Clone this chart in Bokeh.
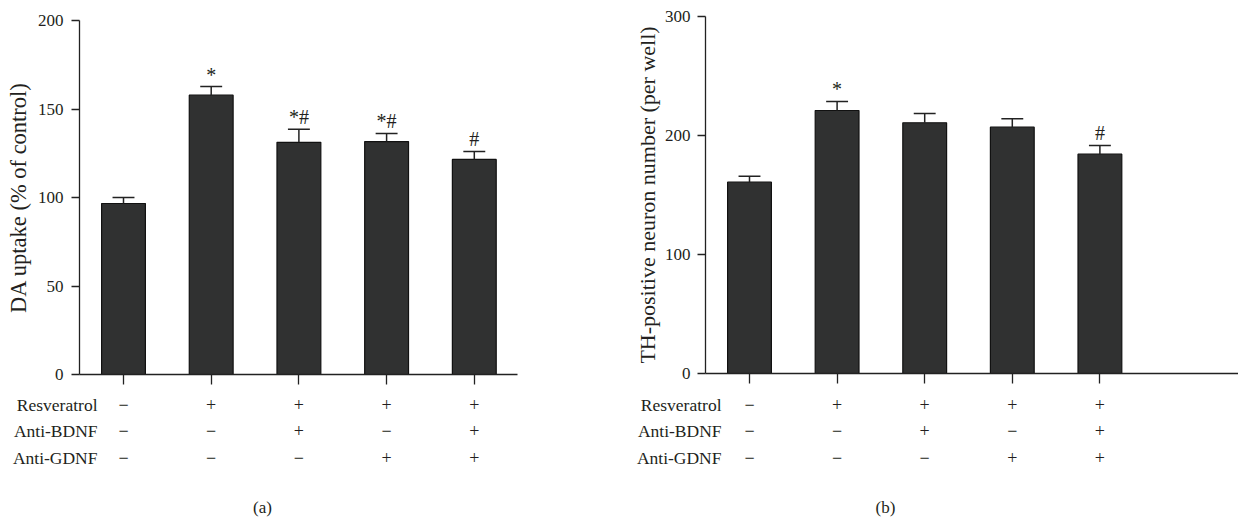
import numpy as np
from bokeh.plotting import figure
from bokeh.models import Range1d, LabelSet, ColumnDataSource, FixedTicker
from bokeh.layouts import row, column
from bokeh.core.properties import value
from bokeh.embed import file_html
from bokeh.resources import INLINE

# ---------------- data ----------------
groups = [0, 1, 2, 3, 4]
row_names = ["Resveratrol", "Anti-BDNF", "Anti-GDNF"]
resveratrol = ["\u2212", "+", "+", "+", "+"]
anti_bdnf = ["\u2212", "\u2212", "+", "\u2212", "+"]
anti_gdnf = ["\u2212", "\u2212", "\u2212", "+", "+"]

da_mean = [96.6, 157.8, 131.2, 131.6, 121.5]
da_err = [3.4, 4.9, 7.4, 4.6, 4.5]
da_marks = ["", "*", "*#", "*#", "#"]
da_ticks = [0, 50, 100, 150, 200]
da_ylabel = "DA uptake (% of control)"

th_mean = [160.8, 221.0, 210.7, 207.0, 184.3]
th_err = [5.0, 7.6, 7.8, 7.0, 7.3]
th_marks = ["", "*", "", "", "#"]
th_ticks = [0, 100, 200, 300]
th_ylabel = "TH-positive neuron number (per well)"

FONT = "Liberation Serif"
TXT = "#231f20"
BAR = "#303131"
BAR_H = 388
TAB_H = 130
ROW_Y = [16, 42, 69]   # table rows, px below the chart


def panel(means, errs, marks, ticks, ylabel, ylabel_size, letter, width,
          left_px, right_px, first_px, step_px, top_px, bottom_px,
          ylab_standoff, tick_standoff, name_end_px, letter_px):
    xr = Range1d((left_px - first_px) / step_px, (right_px - first_px) / step_px)
    p = figure(width=width, height=BAR_H, x_range=xr,
               y_range=Range1d(0, ticks[-1]), output_backend="svg",
               toolbar_location=None, min_border_left=left_px,
               min_border_right=width - right_px,
               min_border_top=top_px, min_border_bottom=BAR_H - bottom_px)
    p.outline_line_color = None
    p.grid.visible = False

    p.yaxis.ticker = FixedTicker(ticks=ticks)
    p.yaxis.minor_tick_line_color = None
    p.yaxis.major_tick_out = 8
    p.yaxis.major_tick_in = 0
    p.yaxis.major_label_standoff = tick_standoff
    p.yaxis.major_label_text_font = FONT
    p.yaxis.major_label_text_font_size = "17px"
    p.yaxis.major_label_text_color = TXT
    p.yaxis.axis_label = ylabel
    p.yaxis.axis_label_standoff = ylab_standoff
    p.yaxis.axis_label_text_font = FONT
    p.yaxis.axis_label_text_font_size = ylabel_size
    p.yaxis.axis_label_text_font_style = "normal"
    p.yaxis.axis_label_text_color = TXT
    p.xaxis.ticker = FixedTicker(ticks=groups)
    p.xaxis.minor_tick_line_color = None
    p.xaxis.major_tick_out = 10
    p.xaxis.major_tick_in = 0
    p.xaxis.major_label_standoff = 0
    p.xaxis.major_label_overrides = {g: "" for g in groups}
    p.xaxis.major_label_text_font_size = "1px"
    for ax in (p.xaxis, p.yaxis):
        ax.axis_line_color = "#222222"
        ax.axis_line_width = 1.3
        ax.major_tick_line_color = "#222222"
        ax.major_tick_line_width = 1.3

    x = np.array(groups, dtype=float)
    m = np.array(means)
    tops = m + np.array(errs)
    p.vbar(x=x, top=m, bottom=0, width=0.5, fill_color=BAR,
           line_color="#111111", line_width=1.2)
    p.segment(x0=x, y0=m, x1=x, y1=tops, line_color="#222222", line_width=1.5)
    p.segment(x0=x - 0.125, y0=tops, x1=x + 0.125, y1=tops,
              line_color="#222222", line_width=1.5)

    keep = [i for i, s in enumerate(marks) if s]
    src = ColumnDataSource(dict(x=x[keep], y=tops[keep], t=[marks[i] for i in keep]))
    p.add_layout(LabelSet(x="x", y="y", text="t", source=src, y_offset=5,
                          text_align="center", text_baseline="alphabetic",
                          text_font=value(FONT), text_font_size=value("20px"),
                          text_color=TXT))

    # treatment table below the chart, sharing the x scale
    t = figure(width=width, height=TAB_H, x_range=xr,
               y_range=Range1d(TAB_H, 0), output_backend="svg",
               toolbar_location=None, x_axis_location=None,
               min_border_left=left_px, min_border_right=width - right_px,
               min_border_top=0, min_border_bottom=0)
    t.outline_line_color = None
    t.grid.visible = False
    ya = t.yaxis[0]
    ya.ticker = FixedTicker(ticks=ROW_Y)
    ya.major_label_overrides = {yy: n for yy, n in zip(ROW_Y, row_names)}
    ya.axis_line_color = None
    ya.major_tick_line_color = None
    ya.minor_tick_line_color = None
    ya.major_tick_out = 0
    ya.major_tick_in = 0
    ya.major_label_standoff = left_px - name_end_px
    ya.major_label_text_font = FONT
    ya.major_label_text_font_size = "17.5px"
    ya.major_label_text_color = TXT
    for signs, yy in zip([resveratrol, anti_bdnf, anti_gdnf], ROW_Y):
        t.text(x=x, y=[yy] * len(groups), text=signs, text_align="center",
               text_baseline="middle", text_font=value(FONT),
               text_font_size=value("18px"), text_color=TXT)
    t.text(x=[(letter_px - first_px) / step_px], y=[119], text=[letter],
           text_align="center", text_baseline="middle", text_font=value(FONT),
           text_font_size=value("17px"), text_color=TXT)
    return column(p, t)


pa = panel(da_mean, da_err, da_marks, da_ticks, da_ylabel, "22.5px", "(a)", 620,
           79, 517, 123, 87.7, 20, 374, 4, 8, 97, 262)
pb = panel(th_mean, th_err, th_marks, th_ticks, th_ylabel, "22px", "(b)", 618,
           85, 618, 129, 87.6, 16, 373, 2, 7, 101, 265)

layout = row(pa, pb)
open("out.html", "w").write(file_html(layout, INLINE))
